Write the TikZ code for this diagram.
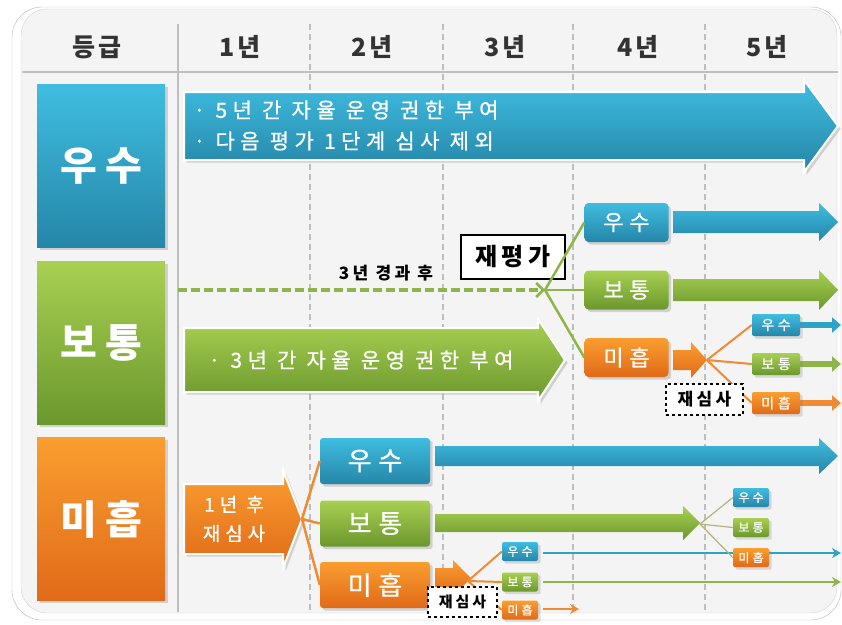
\documentclass[tikz,border=0pt]{standalone}
\usepackage{fontspec}
\setmainfont{Noto Sans CJK KR}
\newfontfamily\krwide[LetterSpace=26, FakeBold=0.8]{Noto Sans CJK KR}
\newfontfamily\krhead[LetterSpace=10]{Noto Sans CJK KR}
\newfontfamily\krspaced[LetterSpace=20]{Noto Sans CJK KR}
\usetikzlibrary{positioning,shadows,arrows.meta}

\definecolor{bluetop}{HTML}{3FBDE0}
\definecolor{bluebot}{HTML}{2586A8}
\definecolor{blueline}{HTML}{2EA3C6}
\definecolor{greentop}{HTML}{A8D052}
\definecolor{greenbot}{HTML}{6B982D}
\definecolor{greenline}{HTML}{8DB548}
\definecolor{orangetop}{HTML}{FA9E30}
\definecolor{orangebot}{HTML}{E06A18}
\definecolor{orangeline}{HTML}{F08A34}
\definecolor{oliveline}{HTML}{B5B27A}
\definecolor{gridgray}{HTML}{BEBEBE}
\definecolor{panel}{HTML}{F4F4F4}
\definecolor{headtext}{HTML}{333333}

% block arrow: style, x start, x head base, x tip, y centre, half body, half head
\newcommand{\blockarrow}[7]{%
  \path[#1] (#2,#5-#6) -- (#3,#5-#6) -- (#3,#5-#7) -- (#4,#5)
    -- (#3,#5+#7) -- (#3,#5+#6) -- (#2,#5+#6) -- cycle;}

\tikzset{
  bluefill/.style={top color=bluetop, bottom color=bluebot},
  greenfill/.style={top color=greentop, bottom color=greenbot},
  orangefill/.style={top color=orangetop, bottom color=orangebot},
  bigarrow/.style={draw=white, line width=2pt, drop shadow={opacity=0.3}},
  gradebox/.style={minimum width=128pt, minimum height=163pt, inner sep=0pt, text=white,
    font=\krspaced\fontsize{40}{42}\selectfont\bfseries, drop shadow={opacity=0.3}},
  headlabel/.style={text=headtext, font=\krhead\fontsize{25}{27}\selectfont\bfseries},
  midbox/.style={rounded corners=4pt, minimum width=84pt, minimum height=39pt, inner sep=0pt,
    text=white, font=\krwide\fontsize{22}{23}\selectfont, drop shadow={opacity=0.3}},
  subbox/.style={rounded corners=3pt, minimum width=110pt, minimum height=46pt, inner sep=0pt,
    text=white, font=\krwide\fontsize{26}{27}\selectfont, drop shadow={opacity=0.3}},
  smallbox/.style={rounded corners=2pt, minimum width=48pt, minimum height=22pt, inner sep=0pt,
    text=white, font=\krwide\fontsize{14}{15}\selectfont, drop shadow={opacity=0.25}},
  tinybox/.style={rounded corners=2pt, minimum width=36pt, minimum height=19pt, inner sep=0pt,
    text=white, font=\krwide\fontsize{12}{13}\selectfont, drop shadow={opacity=0.25}},
  checkbox/.style={draw=black, line width=1.5pt, fill=white, inner sep=0pt},
  arrowtext/.style={text=white, anchor=west, font=\krwide\fontsize{21}{23}\selectfont},
  grid/.style={gridgray, line width=1.5pt},
  gridd/.style={gridgray, line width=1.5pt, dash pattern=on 6pt off 4pt},
}

\begin{document}
\begin{tikzpicture}[x=1pt, y=-1pt]
\useasboundingbox (0,0) rectangle (842,624);

% frame
\draw[gray!55, fill=white, rounded corners=30pt] (12,7) rectangle (841,620);
\draw[gray!35, fill=panel, rounded corners=26pt] (21,9) rectangle (837,613);

% table lines
\draw[grid] (22,72) -- (838,72);
\draw[grid] (178,24) -- (178,612);
\foreach \gx in {310,443,573,705}
  \draw[gridd] (\gx,24) -- (\gx,612);

% header
\node[headlabel] (hgrade) at (97,47) {등급};
\node[headlabel] (hy1) at (240,47) {1년};
\node[headlabel] (hy2) at (372,47) {2년};
\node[headlabel] (hy3) at (505,47) {3년};
\node[headlabel] (hy4) at (638,47) {4년};
\node[headlabel] (hy5) at (767,47) {5년};

% grades
\node[gradebox, bluefill] (gex) at (101,166) {우수};
\node[gradebox, greenfill] (gnm) at (101,343) {보통};
\node[gradebox, orangefill] (gpr) at (101,519) {미흡};

% excellent row
\blockarrow{bluefill, bigarrow}{184}{804}{838}{126}{34}{46}
\node[arrowtext] (extxt1) at (190,110) {· 5년 간 자율 운영 권한 부여};
\node[arrowtext] (extxt2) at (190,141) {· 다음 평가 1단계 심사 제외};

% normal row
\blockarrow{greenfill, bigarrow}{184}{538}{565}{360}{32}{41}
\node[arrowtext] (nmtxt) at (205,360) {· 3년 간 자율 운영 권한 부여};

\coordinate (rs) at (178,290);
\coordinate (rp) at (545,290);
\draw[greenline, line width=4pt, dash pattern=on 9pt off 4pt,
  -{Straight Barb[length=7pt, width=14pt, line width=2.5pt]}] (rs) -- (rp);
\node[font=\krspaced\fontsize{17}{19}\selectfont\bfseries] (after3) at (386,273) {3년 경과 후};
\node[checkbox, minimum width=104pt, minimum height=44pt,
  font=\krspaced\fontsize{24}{26}\selectfont\bfseries] (reeval) at (513,257) {재평가};

\node[midbox, bluefill] (m4ex) at (626.5,222.5) {우수};
\node[midbox, greenfill] (m4nm) at (626.5,290) {보통};
\node[midbox, orangefill] (m4pr) at (626.5,357.5) {미흡};
\foreach \t in {m4ex,m4nm,m4pr}
  \draw[greenline, line width=2.5pt] (rp) -- (\t.west);

\blockarrow{bluefill}{673}{819}{838}{222}{11}{19}
\blockarrow{greenfill}{673}{819}{838}{290}{11}{20}
\blockarrow{orangefill}{673}{691}{707}{360}{10}{18}
\coordinate (rq) at (707,360);

\draw[blueline, line width=6pt, -{Triangle[length=9pt, width=15pt]}] (800,325) -- (841,325);
\draw[greenline, line width=6pt, -{Triangle[length=9pt, width=15pt]}] (800,364) -- (841,364);
\draw[orangeline, line width=6pt, -{Triangle[length=9pt, width=15pt]}] (800,403) -- (841,403);

\node[smallbox, bluefill] (s5ex) at (776,325) {우수};
\node[smallbox, greenfill] (s5nm) at (776,364) {보통};
\node[smallbox, orangefill] (s5pr) at (776,403) {미흡};
\foreach \t in {s5ex,s5nm,s5pr}
  \draw[orangeline, line width=2pt] (rq) -- (\t.west);
\node[checkbox, dashed, minimum width=77pt, minimum height=31pt,
  font=\krspaced\fontsize{17}{19}\selectfont\bfseries] (recheck1) at (704.5,399.5) {재심사};

% poor row
\blockarrow{orangefill, bigarrow}{184}{283}{302}{519}{35}{49}
\node[text=white, align=center, font=\krwide\fontsize{19}{29}\selectfont] (prtxt) at (234,519) {1년 후\\재심사};
\coordinate (rr) at (302,519);

\node[subbox, bluefill] (b2ex) at (375,461) {우수};
\node[subbox, greenfill] (b2nm) at (375,523.5) {보통};
\node[subbox, orangefill] (b2pr) at (375,585) {미흡};
\foreach \t in {b2ex,b2nm,b2pr}
  \draw[orangeline, line width=2.5pt] (rr) -- (\t.west);

\blockarrow{bluefill}{435}{819}{838}{456}{10}{18}
\blockarrow{greenfill}{435}{683}{700}{523}{9}{17}
\coordinate (rt) at (700,524);

\draw[blueline, line width=2.5pt, -{Stealth[length=9pt, width=10pt]}] (543,553) -- (841,553);
\draw[greenline, line width=2.5pt, -{Stealth[length=9pt, width=10pt]}] (543,582) -- (841,582);
\draw[orangeline, line width=2.5pt, -{Stealth[length=9pt, width=10pt]}] (543,609) -- (579,609);

\node[tinybox, bluefill] (t5ex) at (751,497.5) {우수};
\node[tinybox, greenfill] (t5nm) at (751,527.5) {보통};
\node[tinybox, orangefill] (t5pr) at (751,557.5) {미흡};
\foreach \t in {t5ex,t5nm,t5pr}
  \draw[oliveline, line width=1.2pt] (rt) -- (\t.west);

\blockarrow{orangefill}{435}{453}{471}{578}{10}{18}
\coordinate (ru) at (468,581);
\node[tinybox, bluefill] (t3ex) at (520,551.5) {우수};
\node[tinybox, greenfill] (t3nm) at (520,582) {보통};
\node[tinybox, orangefill] (t3pr) at (520,610) {미흡};
\foreach \t in {t3ex,t3nm,t3pr}
  \draw[orangeline, line width=2pt] (ru) -- (\t.west);
\node[checkbox, dashed, minimum width=69pt, minimum height=30pt,
  font=\krspaced\fontsize{15}{17}\selectfont\bfseries] (recheck2) at (462.5,602) {재심사};
\end{tikzpicture}
\end{document}
